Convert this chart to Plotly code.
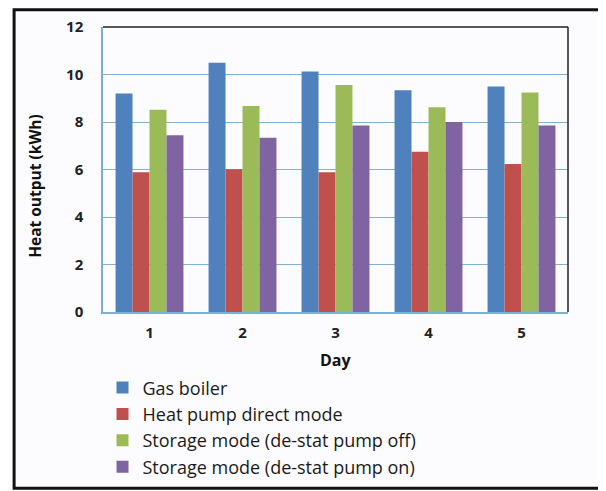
import plotly.graph_objects as go

days = ["1", "2", "3", "4", "5"]
gas_boiler = [9.2, 10.5, 10.13, 9.34, 9.5]
heat_pump_direct = [5.88, 6.01, 5.88, 6.75, 6.23]
storage_pump_off = [8.52, 8.67, 9.56, 8.62, 9.24]
storage_pump_on = [7.44, 7.34, 7.85, 8.0, 7.85]

series = [
    ("Gas boiler", gas_boiler, "#4F81BD"),
    ("Heat pump direct mode", heat_pump_direct, "#C0504D"),
    ("Storage mode (de-stat pump off)", storage_pump_off, "#9BBB59"),
    ("Storage mode (de-stat pump on)", storage_pump_on, "#8064A2"),
]

W, H = 606, 491
OFF = 8  # page body margin offset
# plot area targets in screen pixels
SL, SR, ST, SB = 102.5, 568, 26.7, 311.7
L, R, T, B = SL - OFF, SR - OFF, ST - OFF, SB - OFF

def px_x(p):
    return (p - OFF - L) / (R - L)

def px_y(p):
    return (B - (p - OFF)) / (B - T)

fig = go.Figure()
for i, (name, vals, col) in enumerate(series):
    fig.add_trace(go.Bar(x=days, y=vals, name=name, marker_color=col,
                         marker_line_width=0, legendgroup=f"g{i}"))

font_family = "Open Sans"
fig.update_layout(
    width=W, height=H,
    margin=dict(l=L, r=W - R, t=T, b=H - B, pad=0, autoexpand=False),
    paper_bgcolor="white",
    plot_bgcolor="white",
    barmode="group",
    bargap=0.27,
    bargroupgap=0,
    showlegend=True,
    legend=dict(
        x=px_x(102), y=px_y(369), xanchor="left", yanchor="top",
        font=dict(family=font_family, size=18, color="#1a1a1a"),
        tracegroupgap=0, bgcolor="rgba(0,0,0,0)", itemwidth=30,
    ),
    font=dict(family=font_family),
)
fig.update_xaxes(
    showline=True, linecolor="#7FAFD0", linewidth=1.5,
    showgrid=False, ticks="", ticklabelstandoff=6,
    tickfont=dict(family=font_family, size=15, color="#222", weight="bold"),
)
fig.update_yaxes(
    range=[0, 12], dtick=2, showline=True, linecolor="#7FAFD0", linewidth=1.5,
    showgrid=True, gridcolor="#7FB2D3", gridwidth=1.3, zeroline=False,
    ticks="", ticklabelstandoff=15,
    tickfont=dict(family=font_family, size=15, color="#222", weight="bold"),
)
# outer frame
fig.add_shape(type="rect", xref="paper", yref="paper",
              x0=px_x(13.5), x1=px_x(603), y0=px_y(488), y1=px_y(9.5),
              line=dict(color="#111", width=3), fillcolor="#FCFCFE", layer="below")
# plot area top & right border
fig.add_shape(type="line", xref="paper", yref="paper", x0=0, x1=1, y0=1, y1=1,
              line=dict(color="#222", width=1.5))
fig.add_shape(type="line", xref="paper", yref="paper", x0=1, x1=1, y0=0, y1=1,
              line=dict(color="#222", width=1.5))
fig.add_annotation(text="Heat output (kWh)", xref="paper", yref="paper",
                   x=px_x(35), y=px_y(186), xanchor="center", yanchor="middle",
                   textangle=-90, showarrow=False,
                   font=dict(family=font_family, size=15.5, color="#111", weight="bold"))
fig.add_annotation(text="Day", xref="paper", yref="paper",
                   x=px_x(336), y=px_y(360), xanchor="center", yanchor="middle",
                   showarrow=False,
                   font=dict(family=font_family, size=16, color="#111", weight="bold"))
fig.write_html("out.html")
